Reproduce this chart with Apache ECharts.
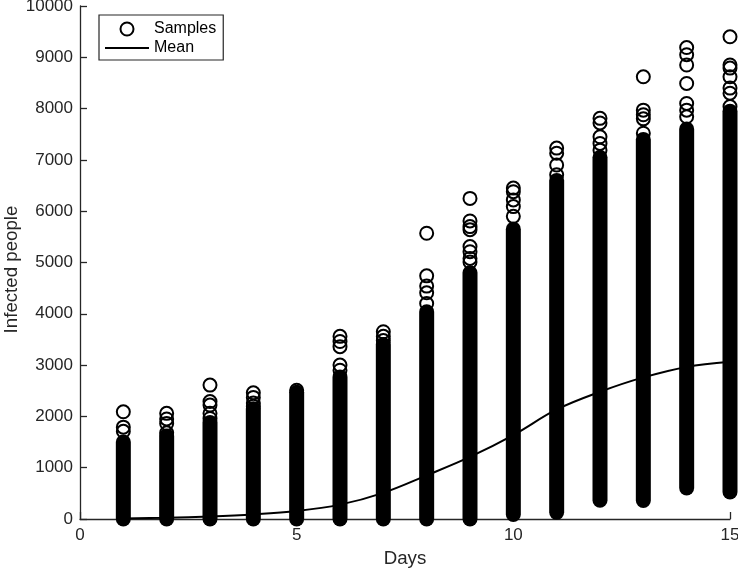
<!DOCTYPE html>
<html>
<head>
<meta charset="utf-8">
<script src="https://cdn.jsdelivr.net/npm/echarts@6/dist/echarts.min.js"></script>
<style>
html,body{margin:0;padding:0;background:#fff;}
#chart{width:738px;height:570px;}
</style>
</head>
<body>
<div id="chart"></div>
<script>
// Days (x categories, numeric)
var days = [1,2,3,4,5,6,7,8,9,10,11,12,13,14,15];
// Lowest sample value per day
var sampleLow = [0,0,0,0,0,0,0,0,0,90,130,365,360,605,525];
// Upper end of the densely packed sample band per day
var sampleDenseHigh = [1500,1620,1880,2150,2470,2770,3400,4040,4800,5650,6600,7050,7400,7600,7950];
// Isolated sample values visible above the dense band, per day
var sampleOutliers = [
  [2090,1790,1710],
  [2060,1950,1860,1680],
  [2610,2290,2220,2060,1960],
  [2460,2370,2260,2200],
  [2510],
  [3560,3460,3360,3000,2900],
  [3650,3560,3480],
  [5570,4740,4540,4410,4200],
  [6250,5810,5700,5640,5310,5210,5080,5010],
  [6450,6380,6220,6090,5900],
  [7230,7130,6900,6710],
  [7810,7720,7450,7320,7190],
  [8620,7970,7880,7800,7520],
  [9190,9050,8850,8490,8100,7970,7840],
  [9400,8850,8790,8620,8400,8300,8040]
];
// Mean infected people per day
var meanValues = [12,25,50,90,155,280,510,850,1210,1635,2135,2480,2760,2965,3065];
// Axis ticks
var xTicks = [0,5,10,15];
var yTickStep = 1000;

var bandData = days.map(function(d,i){ return [d, sampleLow[i], sampleDenseHigh[i]]; });
var outlierData = [];
days.forEach(function(d,i){ sampleOutliers[i].forEach(function(v){ outlierData.push([d,v]); }); });
var meanData = days.map(function(d,i){ return [d, meanValues[i]]; });

var txt = '#262626';
var font = '"Liberation Sans", Arial, Helvetica, sans-serif';
var chart = echarts.init(document.getElementById('chart'), null, {renderer:'canvas'});
chart.setOption({
  animation:false,
  backgroundColor:'#fff',
  grid:{left:80, right:8, top:6, bottom:51, containLabel:false, outerBoundsMode:'none'},
  legend:{
    orient:'vertical', left:99, top:15,
    padding:[6,7,4,6], itemGap:3,
    itemWidth:44, itemHeight:13,
    borderColor:'#262626', borderWidth:1.2,
    textStyle:{fontFamily:font, fontSize:16, color:'#000', lineHeight:16},
    data:[
      {name:'Samples', icon:'circle', itemStyle:{color:'rgba(0,0,0,0)', borderColor:'#000', borderWidth:2}},
      {name:'Mean', icon:'path://M0,0 L44,0 L44,2 L0,2 Z', itemStyle:{color:'#000'}}
    ]
  },
  xAxis:{
    type:'value', min:xTicks[0], max:xTicks[xTicks.length-1], interval:5,
    name:'Days', nameLocation:'middle', nameGap:30, nameMoveOverlap:false,
    nameTextStyle:{fontFamily:font, fontSize:18.7, color:txt},
    axisLine:{lineStyle:{color:txt, width:1.3}},
    axisTick:{inside:true, length:7, lineStyle:{color:txt, width:1.3}},
    axisLabel:{fontFamily:font, fontSize:17, color:txt, margin:8},
    splitLine:{show:false}
  },
  yAxis:{
    type:'value', min:0, max:10000, interval:yTickStep,
    name:'Infected people', nameLocation:'middle', nameGap:59, nameMoveOverlap:false,
    nameTextStyle:{fontFamily:font, fontSize:18.7, color:txt, padding:[0,14,0,0]},
    axisLine:{show:true, lineStyle:{color:txt, width:1.3}},
    axisTick:{show:true, inside:true, length:7, lineStyle:{color:txt, width:1.3}},
    axisLabel:{fontFamily:font, fontSize:17, color:txt, margin:7, formatter:function(v){ return String(v); }},
    splitLine:{show:false}
  },
  series:[
    {
      name:'Samples', type:'custom', z:2, clip:false,
      data:bandData,
      renderItem:function(params, api){
        var p1 = api.coord([api.value(0), api.value(1)]);
        var p2 = api.coord([api.value(0), api.value(2)]);
        return {type:'line', shape:{x1:p1[0], y1:p1[1], x2:p2[0], y2:p2[1]},
          style:{stroke:'#000', lineWidth:15, lineCap:'round', fill:null}};
      }
    },
    {
      name:'Samples', type:'scatter', z:3, clip:false,
      symbol:'circle', symbolSize:13,
      itemStyle:{color:'rgba(0,0,0,0)', borderColor:'#000', borderWidth:2, opacity:1},
      data:outlierData
    },
    {
      name:'Mean', type:'line', z:4, smooth:0.35, symbol:'none', showSymbol:false,
      lineStyle:{color:'#000', width:2},
      itemStyle:{color:'#000'},
      data:meanData
    }
  ]
});
</script>
</body>
</html>
